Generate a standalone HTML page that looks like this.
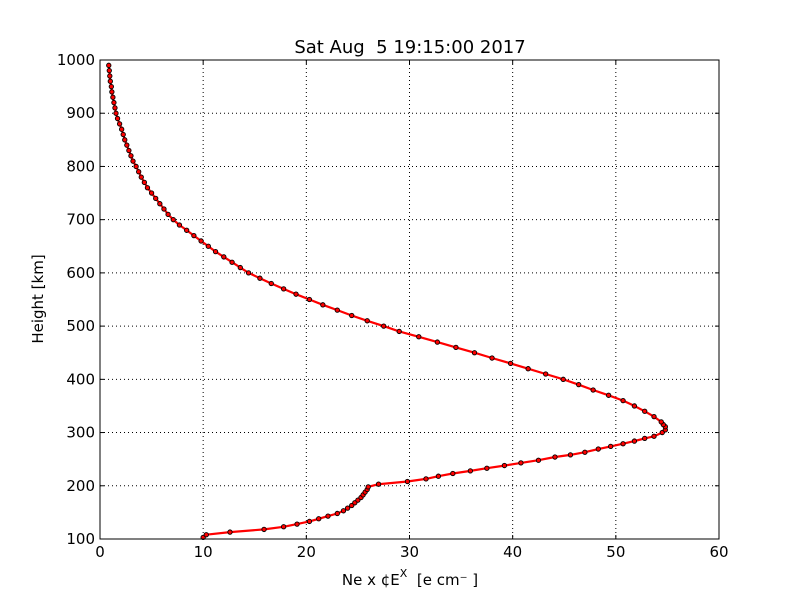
<!DOCTYPE html>
<html><head><meta charset="utf-8"><style>
html,body{margin:0;padding:0;background:#fff;}
svg{display:block;font-family:"DejaVu Sans","Liberation Sans",sans-serif;}
.pre{white-space:pre;}
</style></head><body>
<svg id="chart" width="800" height="600">
<rect width="800" height="600" fill="#fff"/>
<text class="pre" x="410" y="53" font-size="18" text-anchor="middle">Sat Aug  5 19:15:00 2017</text>
<text class="pre" x="410" y="585" font-size="15" text-anchor="middle">Ne x ¢E<tspan dy="-8" font-size="11">X</tspan><tspan dy="8">  [e cm⁻ ]</tspan></text>
<text transform="translate(43,299) rotate(-90)" font-size="15" text-anchor="middle">Height [km]</text>
<g id="grid"></g><g id="ticks"></g><g id="series"></g>
<rect x="100" y="60" width="619" height="479" fill="none" stroke="#000" stroke-width="1"/>
</svg>
<script>
const xTicks=[0,10,20,30,40,50,60];
const yTicks=[100,200,300,400,500,600,700,800,900,1000];
const heights=[103,108,113,118,123,128,133,138,143,148,153,158,163,168,173,178,183,188,193,198,203,208,213,218,223,228,233,238,243,248,254,258,263,269,274,279,284,289,293,300,305,311,315,320,330,340,350,360,370,380,390,400,410,420,430,440,450,460,470,480,490,500,510,520,530,540,550,560,570,580,590,600,610,620,630,640,650,660,670,680,690,700,710,720,730,740,750,760,770,780,790,800,810,820,830,840,850,860,870,880,890,900,910,920,930,940,950,960,970,980,990];
const density=[10.0,10.3,12.6,15.9,17.8,19.1,20.3,21.2,22.1,23.0,23.6,24.0,24.4,24.7,25.0,25.3,25.5,25.7,25.9,26.0,27.0,29.8,31.6,32.8,34.2,35.9,37.5,39.2,40.8,42.5,44.1,45.6,47.0,48.3,49.5,50.7,51.8,52.8,53.7,54.5,54.8,54.8,54.6,54.4,53.7,52.8,51.8,50.7,49.3,47.8,46.4,44.9,43.2,41.5,39.8,38.0,36.3,34.5,32.7,30.9,29.0,27.5,25.9,24.4,23.0,21.6,20.3,19.0,17.8,16.6,15.5,14.4,13.6,12.8,12.0,11.2,10.5,9.8,9.1,8.4,7.7,7.1,6.6,6.2,5.8,5.4,5.0,4.6,4.3,4.0,3.75,3.5,3.2,3.0,2.8,2.6,2.4,2.25,2.1,1.9,1.7,1.55,1.45,1.35,1.25,1.15,1.1,1.0,0.95,0.9,0.85];
const X0=100,X1=719,Y0=539,Y1=60;
const sx=v=>X0+(v-0)/(60-0)*(X1-X0);
const sy=v=>Y0-(v-100)/(1000-100)*(Y0-Y1);
const NS="http://www.w3.org/2000/svg";
const grid=document.getElementById('grid'),ticks=document.getElementById('ticks'),series=document.getElementById('series');
function mk(tag,attrs,parent){const e=document.createElementNS(NS,tag);for(const k in attrs)e.setAttribute(k,attrs[k]);parent.appendChild(e);return e;}
xTicks.forEach(t=>{const x=sx(t);
 if(t>0&&t<60){const g=mk('line',{x1:x,x2:x,y1:Y1,y2:Y0,stroke:'#000','stroke-dasharray':'1,3','stroke-width':1},grid);
 
 }
 mk('line',{x1:x,x2:x,y1:Y0,y2:Y0-4,stroke:'#000'},ticks);mk('line',{x1:x,x2:x,y1:Y1,y2:Y1+4,stroke:'#000'},ticks);
 const l=mk('text',{x:x,y:Y0+18,'font-size':15,'text-anchor':'middle'},ticks);l.textContent=t;
 
 });
yTicks.forEach(t=>{const y=sy(t);
 if(t>100&&t<1000){const g=mk('line',{x1:X0,x2:X1,y1:y,y2:y,stroke:'#000','stroke-dasharray':'1,3','stroke-width':1},grid);
 
 }
 mk('line',{x1:X0,x2:X0+4,y1:y,y2:y,stroke:'#000'},ticks);mk('line',{x1:X1,x2:X1-4,y1:y,y2:y,stroke:'#000'},ticks);
 const l=mk('text',{x:X0-5,y:y+5,'font-size':15,'text-anchor':'end'},ticks);l.textContent=t;
 
 });
const pts=heights.map((h,i)=>sx(density[i]).toFixed(1)+','+sy(h).toFixed(1)).join(' ');
const line=mk('polyline',{points:pts,fill:'none',stroke:'#f00','stroke-width':2.2,'stroke-linejoin':'round'},series);


heights.forEach((h,i)=>{const c=mk('circle',{cx:sx(density[i]),cy:sy(h),r:2.2,fill:'#f00',stroke:'#000','stroke-width':0.9},series);
 
 });
</script>
</body></html>
